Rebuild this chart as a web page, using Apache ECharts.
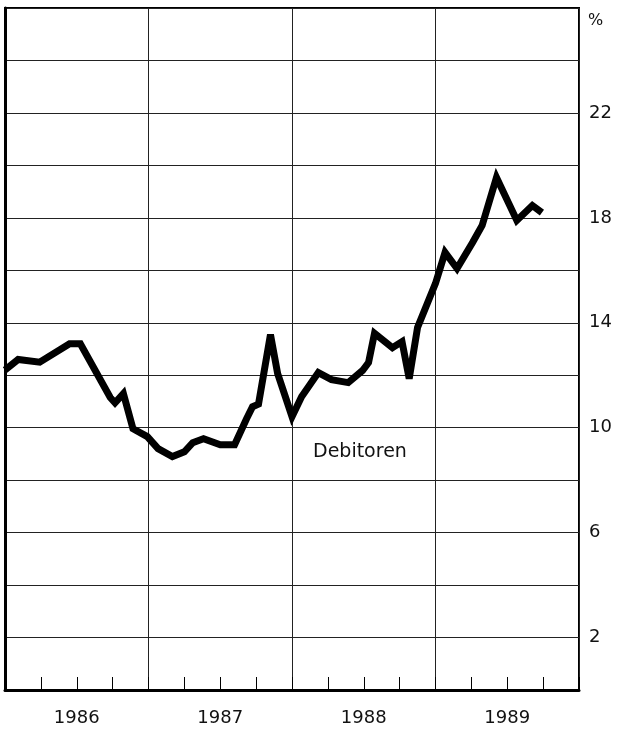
<!DOCTYPE html>
<html>
<head>
<meta charset="utf-8">
<script src="https://cdn.jsdelivr.net/npm/echarts@6/dist/echarts.min.js"></script>
<style>
    html, body { margin: 0; padding: 0; background: #fff; }
    #chart { width: 619px; height: 732px; }
</style>
</head>
<body>
<div id="chart"></div>
<script>
// position in months counted from Jan 1986
const months = [0, 1.1, 2.9, 5.4, 6.3, 8.8, 9.2, 9.9, 10.7, 11.9, 12.8, 14.0, 15.0, 15.7, 16.6, 18.0,
    19.2, 20.2, 20.7, 21.2, 22.2, 22.8, 24.0, 24.8, 26.2, 27.3, 28.7, 29.9, 30.4, 30.9, 32.4, 33.2,
    33.8, 34.5, 36.0, 36.8, 37.8, 39.1, 39.9, 41.1, 42.8, 44.1, 44.9];
const debitoren = [12.2, 12.6, 12.5, 13.2, 13.2, 11.15, 10.95, 11.3, 9.96, 9.66, 9.2, 8.9, 9.08, 9.43, 9.58, 9.35,
    9.35, 10.34, 10.8, 10.9, 13.55, 12.06, 10.42, 11.18, 12.1, 11.83, 11.72, 12.18, 12.48, 13.6, 13.05, 13.28,
    11.87, 13.82, 15.5, 16.68, 16.07, 17.06, 17.71, 19.54, 17.9, 18.47, 18.2];
const years = ['1986', '1987', '1988', '1989'];
const yLabels = [2, 6, 10, 14, 18, 22];

const chart = echarts.init(document.getElementById('chart'));
const font = 'DejaVu Sans';

chart.setOption({
    backgroundColor: '#fff',
    animation: false,
    grid: {
        left: 5,
        right: 40,
        top: 8,
        bottom: 42,
        outerBoundsMode: 'none',
        containLabel: false,
        show: true,
        borderColor: '#000',
        borderWidth: 2
    },
    xAxis: [
        {
            // quarter ticks
            type: 'value',
            position: 'bottom',
            min: 0,
            max: 48,
            interval: 3,
            axisLine: { lineStyle: { color: '#000', width: 3 } },
            axisTick: { inside: true, length: 13, lineStyle: { color: '#000', width: 1 } },
            axisLabel: { show: false },
            splitLine: { show: false }
        },
        {
            // year lines
            type: 'value',
            position: 'bottom',
            min: 0,
            max: 48,
            interval: 12,
            axisLine: { show: false },
            axisTick: { show: false },
            axisLabel: { show: false },
            splitLine: { lineStyle: { color: '#222', width: 1 } }
        },
        {
            // year labels
            type: 'value',
            position: 'bottom',
            min: 0,
            max: 48,
            interval: 6,
            axisLine: { show: false },
            axisTick: { show: false },
            splitLine: { show: false },
            axisLabel: {
                margin: 19,
                fontFamily: font,
                fontSize: 18,
                color: '#111',
                formatter: (v) => (v % 12 === 6 ? years[(v - 6) / 12] : '')
            }
        }
    ],
    yAxis: {
        type: 'value',
        position: 'right',
        min: 0,
        max: 26,
        interval: 2,
        axisLine: { show: true, lineStyle: { color: '#000', width: 3 } },
        axisTick: { show: false },
        splitLine: { lineStyle: { color: '#222', width: 1 } },
        axisLabel: {
            margin: 10,
            fontFamily: font,
            fontSize: 18,
            color: '#111',
            formatter: (v) => (yLabels.includes(v) ? String(v) : '')
        }
    },
    graphic: [
        {
            type: 'text',
            left: 588,
            top: 13,
            style: { text: '%', fontFamily: font, fontSize: 16, fill: '#111' }
        },
        {
            type: 'text',
            left: 313,
            top: 443,
            style: { text: 'Debitoren', fontFamily: font, fontSize: 19, fill: '#111' }
        }
    ],
    series: [
        {
            type: 'line',
            xAxisIndex: 0,
            data: months.map((m, i) => [m, debitoren[i]]),
            showSymbol: false,
            lineStyle: { color: '#000', width: 7, join: 'miter', miterLimit: 4 }
        }
    ]
});
</script>
</body>
</html>
